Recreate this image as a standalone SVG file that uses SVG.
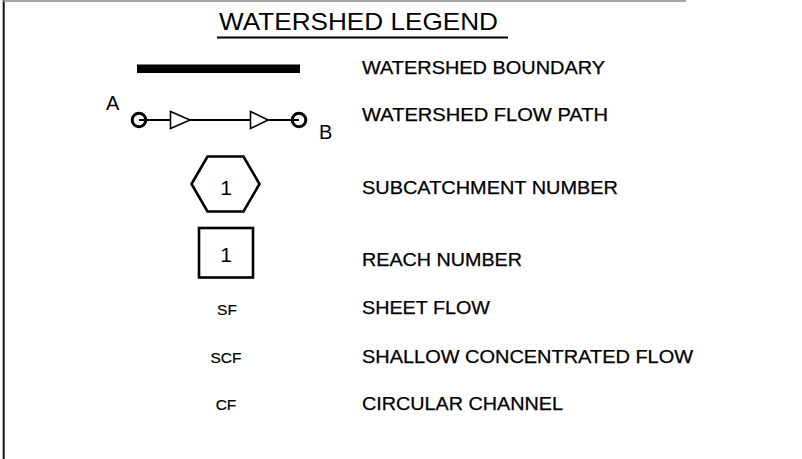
<svg xmlns="http://www.w3.org/2000/svg" width="802" height="459" viewBox="0 0 802 459">
<style>
text{font-family:"Liberation Sans",Arial,sans-serif;fill:#000}
.lbl{font-size:17.5px;stroke:#000;stroke-width:0.25}
.abbr{font-size:15.5px;text-anchor:middle;stroke:#000;stroke-width:0.2}
.sym{fill:#fff;stroke:#000;stroke-width:2.6}
.num{font-size:21px;text-anchor:middle}
</style>
<rect x="0" y="0" width="802" height="459" fill="#fff"/>
<g id="frame">
<line x1="3.7" y1="0" x2="3.7" y2="459" stroke="#111" stroke-width="2"/>
<line x1="3" y1="1" x2="686" y2="1" stroke="#8a8a8a" stroke-width="1.5"/>
</g>
<g id="title">
<text x="219" y="30" font-size="24" textLength="279" lengthAdjust="spacingAndGlyphs">WATERSHED LEGEND</text>
<line x1="217" y1="37.5" x2="508" y2="37.5" stroke="#000" stroke-width="1.8"/>
</g>
<g id="boundary">
<rect x="137" y="64.5" width="163" height="8.5" fill="#000"/>
<text class="lbl" x="362" y="74" textLength="243" lengthAdjust="spacingAndGlyphs">WATERSHED BOUNDARY</text>
</g>
<g id="flowpath">
<line x1="139" y1="120" x2="299" y2="120" stroke="#000" stroke-width="2.2"/>
<circle cx="139" cy="120" r="6.8" fill="none" stroke="#000" stroke-width="3"/>
<circle cx="299" cy="120" r="6.8" fill="none" stroke="#000" stroke-width="3"/>
<polygon points="170.5,111.5 190,120 170.5,128.5" fill="#fff" stroke="#000" stroke-width="1.6"/>
<polygon points="250.5,111.5 268,120 250.5,128.5" fill="#fff" stroke="#000" stroke-width="1.6"/>
<text x="106" y="110" font-size="20">A</text>
<text x="319" y="139" font-size="20">B</text>
<text class="lbl" x="362" y="121" textLength="246" lengthAdjust="spacingAndGlyphs">WATERSHED FLOW PATH</text>
</g>
<g id="subcatchment">
<polygon class="sym" points="191.5,184 207.5,156.5 243.5,156.5 259.5,184 243.5,211.5 207.5,211.5"/>
<text class="num" x="226" y="195">1</text>
<text class="lbl" x="362" y="194" textLength="256" lengthAdjust="spacingAndGlyphs">SUBCATCHMENT NUMBER</text>
</g>
<g id="reach">
<rect class="sym" x="199" y="228" width="54" height="49.5"/>
<text class="num" x="226" y="262">1</text>
<text class="lbl" x="362" y="266" textLength="160" lengthAdjust="spacingAndGlyphs">REACH NUMBER</text>
</g>
<g id="sheetflow">
<text class="abbr" x="227" y="315">SF</text>
<text class="lbl" x="362" y="314" textLength="128" lengthAdjust="spacingAndGlyphs">SHEET FLOW</text>
</g>
<g id="shallowflow">
<text class="abbr" x="226" y="363">SCF</text>
<text class="lbl" x="362" y="363" textLength="331" lengthAdjust="spacingAndGlyphs">SHALLOW CONCENTRATED FLOW</text>
</g>
<g id="circularchannel">
<text class="abbr" x="226" y="410">CF</text>
<text class="lbl" x="362" y="410" textLength="201" lengthAdjust="spacingAndGlyphs">CIRCULAR CHANNEL</text>
</g>
</svg>
